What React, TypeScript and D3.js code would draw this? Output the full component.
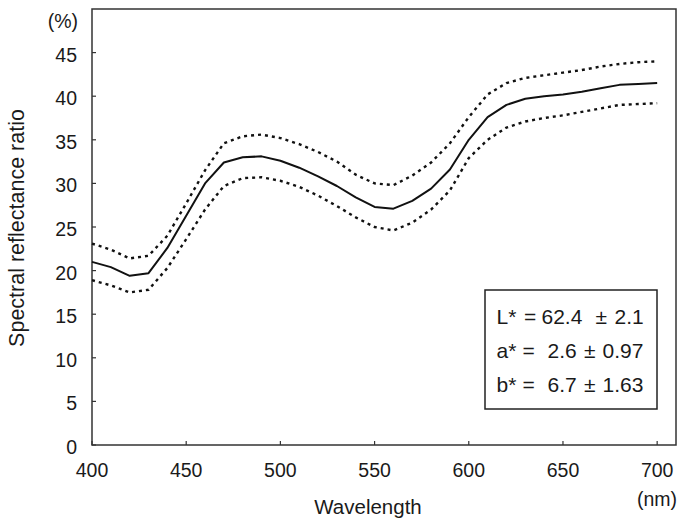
import React from "react";
import * as d3 from "d3";

const wavelengths = [400, 410, 420, 430, 440, 450, 460, 470, 480, 490, 500, 510, 520, 530, 540, 550, 560, 570, 580, 590, 600, 610, 620, 630, 640, 650, 660, 670, 680, 690, 700];
const meanValues = [21.0, 20.4, 19.4, 19.7, 22.6, 26.3, 30.0, 32.4, 33.0, 33.1, 32.6, 31.8, 30.8, 29.7, 28.4, 27.3, 27.1, 28.0, 29.4, 31.6, 35.0, 37.6, 39.0, 39.7, 40.0, 40.2, 40.5, 40.9, 41.3, 41.4, 41.5];
const upperValues = [23.1, 22.4, 21.4, 21.7, 24.0, 27.7, 31.5, 34.6, 35.4, 35.6, 35.2, 34.5, 33.6, 32.5, 31.0, 30.0, 29.8, 30.9, 32.4, 34.6, 37.6, 40.2, 41.5, 42.1, 42.4, 42.7, 43.0, 43.4, 43.7, 43.9, 44.0];
const lowerValues = [18.9, 18.3, 17.5, 17.8, 20.3, 23.6, 27.0, 29.7, 30.6, 30.7, 30.3, 29.6, 28.6, 27.4, 26.1, 25.0, 24.6, 25.5, 27.0, 29.2, 32.9, 35.0, 36.4, 37.1, 37.5, 37.8, 38.2, 38.6, 39.0, 39.1, 39.2];
const xTicks = [400, 450, 500, 550, 600, 650, 700];
const yTicks = [0, 5, 10, 15, 20, 25, 30, 35, 40, 45];
const legendRows = [
  { name: "L*", value: "62.4", sd: "2.1" },
  { name: "a*", value: "2.6", sd: "0.97" },
  { name: "b*", value: "6.7", sd: "1.63" },
];

const W = 685;
const H = 526;
const left = 92;
const right = 676;
const top = 9;
const bottom = 445;
const font = "'Liberation Sans', Arial, Helvetica, sans-serif";
const ink = "#1a1a1a";

export default function App() {
  const x = d3.scaleLinear().domain([400, 710]).range([left, right]);
  const y = d3.scaleLinear().domain([0, 50]).range([bottom, top]);
  const line = (vals: number[]) =>
    d3
      .line<number>()
      .x((_, i) => x(wavelengths[i]))
      .y((v) => y(v))(vals) || "";

  return (
    <svg
      width={W}
      height={H}
      style={{ position: "absolute", left: 0, top: 0, background: "#fff", display: "block" }}
      fontFamily={font}
    >
      <rect x={0} y={0} width={W} height={H} fill="#fff" />
      {/* frame */}
      <rect x={left} y={top} width={right - left} height={bottom - top} fill="none" stroke="#333" strokeWidth={1.5} />
      {/* y ticks */}
      {yTicks.map((t) => (
        <g key={"y" + t}>
          <line x1={left} x2={left + 4} y1={y(t)} y2={y(t)} stroke="#333" strokeWidth={1.2} />
          <text x={77} y={y(t) + 9} fontSize={19.5} textAnchor="end" fill={ink}>
            {t}
          </text>
        </g>
      ))}
      <text x={78} y={28} fontSize={19.5} textAnchor="end" fill={ink}>
        (%)
      </text>
      {/* x ticks */}
      {xTicks.map((t) => (
        <g key={"x" + t}>
          <line x1={x(t)} x2={x(t)} y1={bottom} y2={bottom - 4} stroke="#333" strokeWidth={1.2} />
          <text x={x(t)} y={477} fontSize={19.5} textAnchor="middle" fill={ink}>
            {t}
          </text>
        </g>
      ))}
      <text x={368} y={514} fontSize={20.5} textAnchor="middle" fill={ink}>
        Wavelength
      </text>
      <text x={677} y={506} fontSize={19.5} textAnchor="end" fill={ink}>
        (nm)
      </text>
      <text
        transform={`translate(24, 228) rotate(-90)`}
        fontSize={21.5}
        textAnchor="middle"
        fill={ink}
      >
        Spectral reflectance ratio
      </text>
      {/* curves */}
      <path d={line(upperValues)} fill="none" stroke="#111" strokeWidth={2.4} strokeDasharray="3,4" />
      <path d={line(lowerValues)} fill="none" stroke="#111" strokeWidth={2.4} strokeDasharray="3,4" />
      <path d={line(meanValues)} fill="none" stroke="#111" strokeWidth={2} strokeLinejoin="round" />
      {/* legend */}
      <rect x={485} y={290} width={172} height={119} fill="#fff" stroke="#222" strokeWidth={1.5} />
      {legendRows.map((r, i) => {
        const by = 324 + i * 34;
        const first = i === 0;
        return (
          <g key={r.name} fontSize={21} fill={ink}>
            <text x={496.5} y={by}>{r.name}</text>
            <text x={first ? 524 : 522.5} y={by}>=</text>
            <text x={first ? 541.5 : 547.5} y={by}>{r.value}</text>
            <text x={first ? 595.5 : 584} y={by}>±</text>
            <text x={first ? 614.5 : 602.5} y={by}>{r.sd}</text>
          </g>
        );
      })}
    </svg>
  );
}
